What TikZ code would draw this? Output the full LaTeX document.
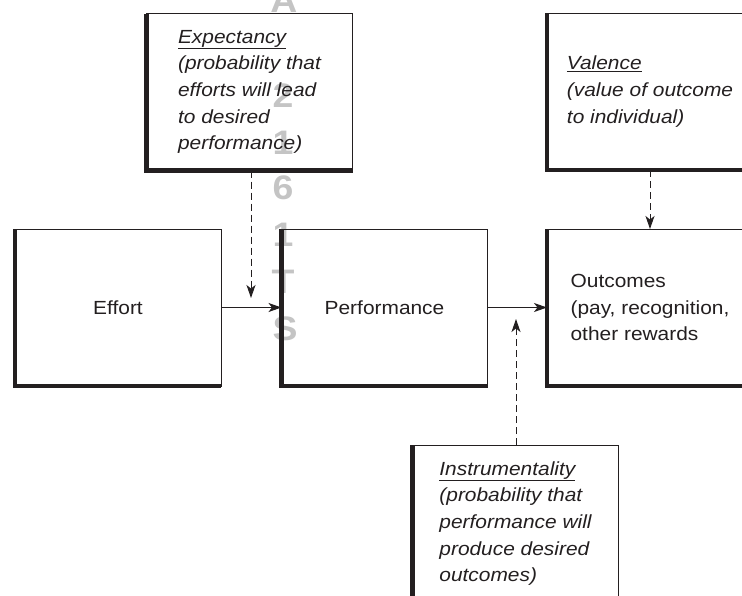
\documentclass[tikz,border=0pt]{standalone}
\usepackage{fontspec}
\setmainfont{Liberation Sans}[FakeStretch=1.1]
\usetikzlibrary{arrows.meta}
\definecolor{ink}{HTML}{231F20}
\definecolor{wm}{HTML}{C4C4C4}
\begin{document}
\begin{tikzpicture}[x=1pt,y=-1pt,
  box/.style={draw=ink, line width=1pt, minimum width=206pt, minimum height=157pt,
    inner sep=0pt, outer sep=0pt, align=left, text=ink,
    font=\fontsize{19}{26.7}\selectfont},
  ibox/.style={box, font=\fontsize{19}{26.7}\selectfont\itshape},
  heavy/.style={draw=ink, line width=4.5pt},
  flow/.style={draw=ink, line width=1.1pt, -{Stealth[length=13pt,width=9pt,inset=3.5pt]}},
  infl/.style={flow, line width=1pt, dash pattern=on 7pt off 4pt},
  wmark/.style={text=wm, anchor=base, inner sep=0pt, font=\fontsize{34}{34}\selectfont\bfseries}
]
\useasboundingbox (0,0) rectangle (742,595);
\clip (0,0) rectangle (742,595);

% watermark
\node[wmark] (w1) at (284,12) {A};
\node[wmark] (w2) at (283,107) {2};
\node[wmark] (w3) at (283,154) {1};
\node[wmark] (w4) at (283,199) {6};
\node[wmark] (w5) at (283,246) {1};
\node[wmark] (w6) at (283,293) {T};
\node[wmark] (w7) at (285,340) {S};

% boxes
\node[ibox] (exp) at (249.5,92) {\underline{Expectancy}\\(probability that\\efforts will lead\\to desired\\performance)};
\node[ibox] (val) at (650,91.5) {\underline{Valence}\\(value of outcome\\to individual)};
\node[box] (eff) at (118,307.5) {Effort};
\node[box] (perf) at (384.5,307.5) {Performance};
\node[box] (out) at (650,307.5) {Outcomes\\(pay, recognition,\\other rewards};
\node[ibox] (ins) at (515.5,523.5) {\underline{Instrumentality}\\(probability that\\performance will\\produce desired\\outcomes)};

\foreach \n in {exp,val,eff,perf,out,ins}
  \draw[heavy] (\n.north west) -- (\n.south west) -- (\n.south east);

% connectors
\draw[flow] (eff.east) -- (perf.west);
\draw[flow] (perf.east) -- (out.west);
\coordinate (expTip) at (251,298);
\draw[infl] (exp.south -| expTip) -- (expTip);
\draw[infl] (val.south) -- (out.north);
\coordinate (insTip) at (516,319);
\draw[infl] (ins.north -| insTip) -- (insTip);
\end{tikzpicture}
\end{document}
